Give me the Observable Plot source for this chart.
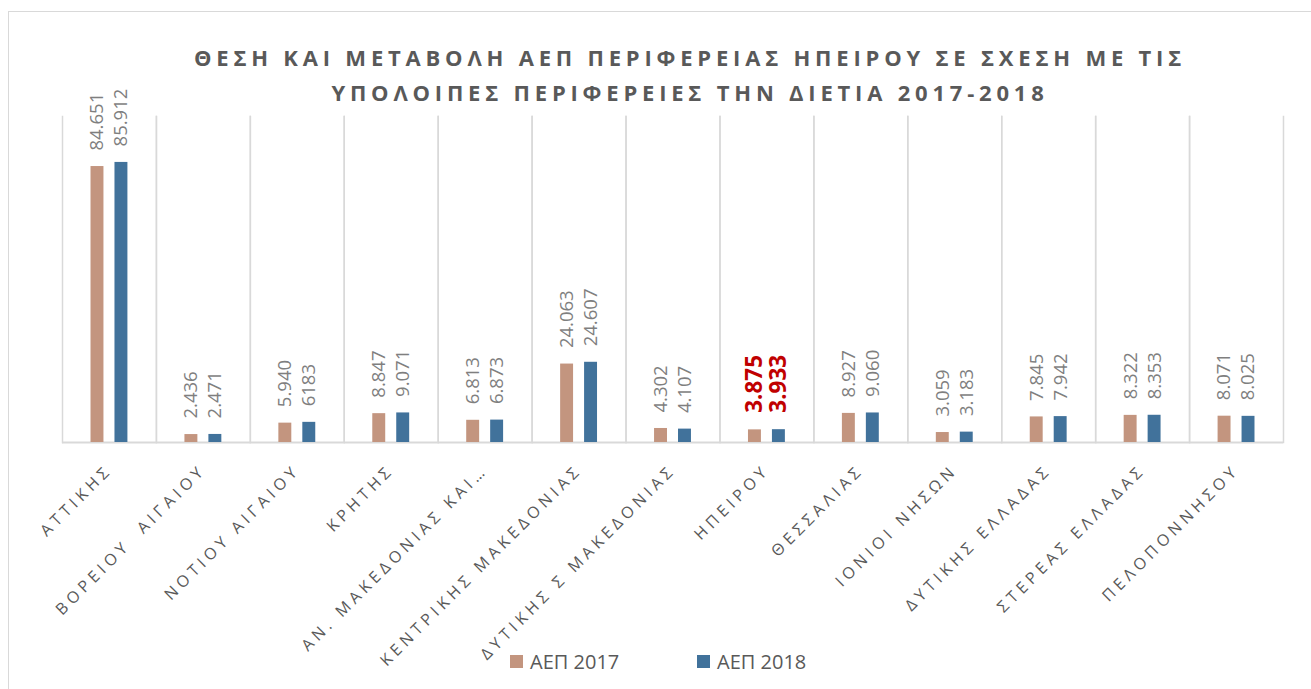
<!DOCTYPE html>
<html>
<head>
<meta charset="utf-8">
<script src="https://cdn.jsdelivr.net/npm/d3@7"></script>
<script src="https://cdn.jsdelivr.net/npm/@observablehq/plot@0.6"></script>
<style>
  html, body { margin: 0; padding: 0; background: #fff; }
  #wrap { position: relative; width: 1311px; height: 689px; overflow: hidden; font-family: "Open Sans", "Noto Sans", sans-serif; }
  #border { position: absolute; left: 8px; top: 11px; width: 1400px; height: 800px; border: 1.5px solid #d9d9d9; box-sizing: border-box; }
  #title { position: absolute; left: 0; top: 40px; width: 1380px; text-align: center; color: #595959;
           font-weight: 700; font-size: 22px; line-height: 35px; letter-spacing: 4.8px; z-index: 2; }
  #legend { position: absolute; top: 648px; left: 0; z-index: 2; color: #595959; font-size: 20px; }
  .item { position: absolute; white-space: nowrap; display: flex; align-items: center; }
  .sw { display: inline-block; width: 13px; height: 13px; margin-right: 7px; }
  #chart { position: absolute; left: 0; top: 0; z-index: 1; }
  #chart svg { overflow: visible; }
  [aria-label^="fx-axis"] text { letter-spacing: 4.4px; white-space: pre; }
</style>
</head>
<body>
<div id="wrap">
  <div id="border"></div>
  <div id="title"></div>
  <div id="chart"></div>
  <div id="legend"></div>
</div>
<script>
const titleLines = ["ΘΕΣΗ ΚΑΙ ΜΕΤΑΒΟΛΗ ΑΕΠ ΠΕΡΙΦΕΡΕΙΑΣ ΗΠΕΙΡΟΥ ΣΕ ΣΧΕΣΗ ΜΕ ΤΙΣ", "ΥΠΟΛΟΙΠΕΣ ΠΕΡΙΦΕΡΕΙΕΣ ΤΗΝ ΔΙΕΤΙΑ 2017-2018"];
const regions = ["ΑΤΤΙΚΗΣ", "ΒΟΡΕΙΟΥ  ΑΙΓΑΙΟΥ", "ΝΟΤΙΟΥ ΑΙΓΑΙΟΥ", "ΚΡΗΤΗΣ", "ΑΝ. ΜΑΚΕΔΟΝΙΑΣ ΚΑΙ…", "ΚΕΝΤΡΙΚΗΣ ΜΑΚΕΔΟΝΙΑΣ", "ΔΥΤΙΚΗΣ Σ ΜΑΚΕΔΟΝΙΑΣ", "ΗΠΕΙΡΟΥ", "ΘΕΣΣΑΛΙΑΣ", "ΙΟΝΙΟΙ ΝΗΣΩΝ", "ΔΥΤΙΚΗΣ ΕΛΛΑΔΑΣ", "ΣΤΕΡΕΑΣ ΕΛΛΑΔΑΣ", "ΠΕΛΟΠΟΝΝΗΣΟΥ"];
const series = ["ΑΕΠ 2017", "ΑΕΠ 2018"];
const gdp2017 = [84651, 2436, 5940, 8847, 6813, 24063, 4302, 3875, 8927, 3059, 7845, 8322, 8071];
const gdp2018 = [85912, 2471, 6183, 9071, 6873, 24607, 4107, 3933, 9060, 3183, 7942, 8353, 8025];
const labels2017 = ["84.651", "2.436", "5.940", "8.847", "6.813", "24.063", "4.302", "3.875", "8.927", "3.059", "7.845", "8.322", "8.071"];
const labels2018 = ["85.912", "2.471", "6183", "9.071", "6.873", "24.607", "4.107", "3.933", "9.060", "3.183", "7.942", "8.353", "8.025"];
const colors = ["#c3957f", "#41729b"];
const highlight = "ΗΠΕΙΡΟΥ";

document.getElementById("title").innerHTML = titleLines.map(t => `<div>${t}</div>`).join("");

const rows = regions.flatMap((r, i) => [
  {region: r, series: series[0], value: gdp2017[i], label: labels2017[i]},
  {region: r, series: series[1], value: gdp2018[i], label: labels2018[i]}
]);

const chart = Plot.plot({
  width: 1311,
  height: 689,
  marginLeft: 62,
  marginRight: 28,
  marginTop: 116,
  marginBottom: 247,
  style: {fontFamily: "'Open Sans', 'Noto Sans', sans-serif", fontSize: "16px", color: "#595959", background: "transparent"},
  facet: {data: rows, x: "region"},
  fx: {domain: regions, padding: 0, round: false, label: null, tickSize: 0, tickPadding: 25, tickRotate: -45},
  x: {domain: series, paddingInner: 0.46, paddingOuter: 1.19, round: false, axis: null},
  y: {domain: [0, 100000], axis: null},
  color: {domain: series, range: colors},
  marks: [
    Plot.frame({anchor: "left", stroke: "#d9d9d9", strokeWidth: 1.5}),
    Plot.frame({anchor: "right", stroke: "#d9d9d9", strokeWidth: 1.5}),
    Plot.ruleY([0], {stroke: "#d9d9d9", strokeWidth: 2}),
    Plot.barY(rows, {x: "series", y: "value", fill: "series"}),
    Plot.text(rows, {filter: d => d.region !== highlight, x: "series", y: "value", text: "label",
      rotate: -90, textAnchor: "start", dy: -16, fontSize: 18.5, fill: "#7f7f7f"}),
    Plot.text(rows, {filter: d => d.region === highlight, x: "series", y: "value", text: "label",
      rotate: -90, textAnchor: "start", dy: -17, fontSize: 22.5, fontWeight: "bold", fill: "#c00000"})
  ]
});
document.getElementById("chart").appendChild(chart);

const legendX = [510, 697];
const legend = document.getElementById("legend");
series.forEach((s, i) => {
  const it = document.createElement("div");
  it.className = "item";
  it.style.left = legendX[i] + "px";
  it.innerHTML = `<span class="sw" style="background:${colors[i]}"></span><span>${s}</span>`;
  legend.appendChild(it);
});
</script>
</body>
</html>
